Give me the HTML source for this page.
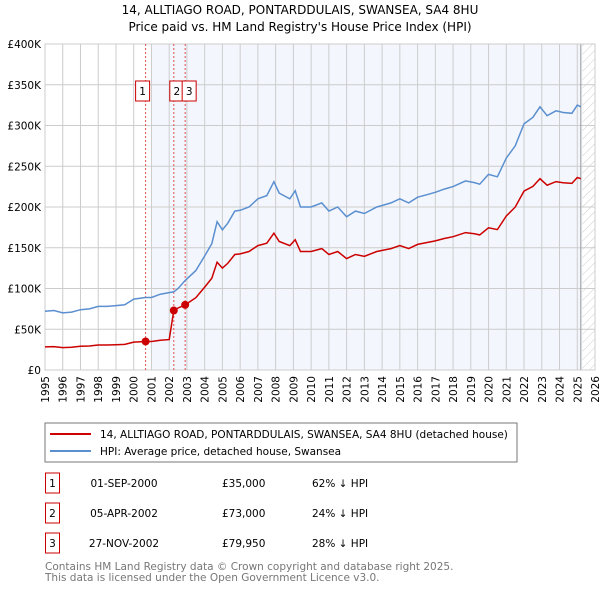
<!DOCTYPE html>
<html><head><meta charset="utf-8"><style>
body{margin:0;background:#fff;font-family:"DejaVu Sans","Liberation Sans",sans-serif;}
svg text{font-family:"DejaVu Sans","Liberation Sans",sans-serif;}
</style></head><body>
<svg id="c" width="600" height="590" xmlns="http://www.w3.org/2000/svg">
<defs><pattern id="hatch" width="6" height="6" patternUnits="userSpaceOnUse" patternTransform="rotate(45)"><line x1="0" y1="0" x2="0" y2="6" stroke="#ccc" stroke-width="1"/></pattern></defs>
<text x="300" y="14" text-anchor="middle" font-size="12">14, ALLTIAGO ROAD, PONTARDDULAIS, SWANSEA, SA4 8HU</text>
<text x="300" y="31" text-anchor="middle" font-size="12">Price paid vs. HM Land Registry's House Price Index (HPI)</text>
<g id="plot"></g>
<rect x="45" y="423" width="472" height="39" fill="#fff" stroke="#777"/>
<line x1="50" y1="434" x2="91" y2="434" stroke="#cc0000" stroke-width="2"/>
<text x="100" y="438" font-size="10.5">14, ALLTIAGO ROAD, PONTARDDULAIS, SWANSEA, SA4 8HU (detached house)</text>
<line x1="50" y1="451" x2="91" y2="451" stroke="#5b8fd0" stroke-width="2"/>
<text x="100" y="455" font-size="10.5">HPI: Average price, detached house, Swansea</text>
<g id="table" font-size="10.5"></g>
<text x="45" y="570" font-size="10.5" fill="#777">Contains HM Land Registry data © Crown copyright and database right 2025.</text>
<text x="45" y="581" font-size="10.5" fill="#777">This data is licensed under the Open Government Licence v3.0.</text>
</svg>
<script>
const hpiYears=[1995,1995.5,1996,1996.5,1997,1997.5,1998,1998.5,1999,1999.5,2000,2000.67,2001,2001.5,2002,2002.26,2002.5,2002.9,2003.5,2004,2004.4,2004.7,2005,2005.3,2005.7,2006,2006.5,2007,2007.5,2007.9,2008.2,2008.8,2009.1,2009.4,2010,2010.6,2011,2011.5,2012,2012.5,2013,2013.7,2014.5,2015,2015.5,2016,2016.5,2017,2017.5,2018,2018.7,2019.2,2019.5,2020,2020.5,2021,2021.5,2022,2022.5,2022.9,2023.3,2023.8,2024.2,2024.7,2025,2025.2];
const hpiValues=[72,73,70,71,74,75,78,78,79,80,87,89,89,93,95,96,100,110,122,140,155,182,172,180,195,196,200,210,214,231,217,210,220,200,200,205,195,200,188,195,192,200,205,210,205,212,215,218,222,225,232,230,228,240,237,260,275,302,310,323,312,318,316,315,325,323];
const saleYears=[2000.67,2002.26,2002.9];
const salePrices=[35000,73000,79950];
const saleLabels=["1","2","3"];
const saleDates=["01-SEP-2000","05-APR-2002","27-NOV-2002"];
const salePriceText=["£35,000","£73,000","£79,950"];
const saleHpiText=["62% ↓ HPI","24% ↓ HPI","28% ↓ HPI"];
const yTicks=[0,50000,100000,150000,200000,250000,300000,350000,400000];
const yTickLabels=["£0","£50K","£100K","£150K","£200K","£250K","£300K","£350K","£400K"];
const xTicks=[];for(let y=1995;y<=2026;y++)xTicks.push(y);

const X0=45,X1=595,Y0=370,Y1=44;
const xs=v=>X0+(v-1995)/(2026-1995)*(X1-X0);
const ys=v=>Y0-v/400000*(Y0-Y1);
const NS="http://www.w3.org/2000/svg";
const plot=document.getElementById('plot');
function mk(t,a,p){const e=document.createElementNS(NS,t);for(const k in a)e.setAttribute(k,a[k]);(p||plot).appendChild(e);return e;}
function hpiAt(t){for(let i=0;i<hpiYears.length-1;i++){if(t<=hpiYears[i+1]){const f=(t-hpiYears[i])/(hpiYears[i+1]-hpiYears[i]);return (hpiValues[i]+f*(hpiValues[i+1]-hpiValues[i]))*1000;}}return hpiValues[hpiValues.length-1]*1000;}

let e=mk('rect',{x:X0,y:Y1,width:X1-X0,height:Y0-Y1,fill:'#fff'});

e=mk('rect',{x:xs(2001),y:Y1,width:xs(2025.3)-xs(2001),height:Y0-Y1,fill:'#eef3fc',opacity:0.7});

e=mk('rect',{x:xs(2025.3),y:Y1,width:X1-xs(2025.3),height:Y0-Y1,fill:'url(#hatch)'});

xTicks.forEach((t,i)=>{
 e=mk('line',{x1:xs(t),x2:xs(t),y1:Y1,y2:Y0,stroke:'#ccc','stroke-width':1});
 
 e=mk('text',{x:0,y:0,'font-size':10.5,'text-anchor':'end',transform:`translate(${xs(t)+4},${Y0+6}) rotate(-90)`});
 e.textContent=t;
});
yTicks.forEach((t,i)=>{
 e=mk('line',{x1:X0,x2:X1,y1:ys(t),y2:ys(t),stroke:'#ccc','stroke-width':1});
 
 e=mk('text',{x:X0-4,y:ys(t)+4,'font-size':10.5,'text-anchor':'end'});
 e.textContent=yTickLabels[i];
});
e=mk('line',{x1:xs(2025.2),x2:xs(2025.2),y1:Y1,y2:Y0,stroke:'#999','stroke-width':1});

e=mk('rect',{x:X0,y:Y1,width:X1-X0,height:Y0-Y1,fill:'none',stroke:'#ccc'});

saleYears.forEach((s,i)=>{
 e=mk('line',{x1:xs(s),x2:xs(s),y1:Y1,y2:Y0,stroke:'#e05050','stroke-width':1,'stroke-dasharray':'2,2'});
 
});
let d=hpiYears.map((t,i)=>(i?'L':'M')+xs(t).toFixed(1)+','+ys(hpiValues[i]*1000).toFixed(1)).join('');
e=mk('path',{d:d,fill:'none',stroke:'#5b8fd0','stroke-width':1.5});

const pts=[];
const times=hpiYears.slice();saleYears.forEach(s=>{times.push(s);times.push(s+0.0001);});times.sort((a,b)=>a-b);
times.forEach(t=>{let k=0;for(let j=0;j<saleYears.length;j++)if(t>=saleYears[j])k=j;
 const v=salePrices[k]*hpiAt(t)/hpiAt(saleYears[k]);pts.push([t,v]);});
d=pts.map((p,i)=>(i?'L':'M')+xs(p[0]).toFixed(1)+','+ys(p[1]).toFixed(1)).join('');
e=mk('path',{d:d,fill:'none',stroke:'#cc0000','stroke-width':1.5});

saleYears.forEach((s,i)=>{
 e=mk('circle',{cx:xs(s),cy:ys(salePrices[i]),r:4,fill:'#cc0000'});
 
 const bx=[xs(s)-10,xs(s)-4,xs(s)-3][i];
 e=mk('rect',{x:bx,y:81,width:14,height:20,fill:'#fff',stroke:'#cc0000'});
 
 e=mk('text',{x:bx+7,y:95,'font-size':10.5,'text-anchor':'middle'});
 e.textContent=saleLabels[i];
});
const tb=document.getElementById('table');
saleYears.forEach((s,i)=>{
 const y=483+i*30;
 e=mk('rect',{x:45.5,y:y-10,width:14,height:20,fill:'#fff',stroke:'#cc0000'},tb);
 
 e=mk('text',{x:52.5,y:y+4,'text-anchor':'middle'},tb);e.textContent=saleLabels[i];
 
 e=mk('text',{x:124,y:y+4,'text-anchor':'middle'},tb);e.textContent=saleDates[i];
 
 e=mk('text',{x:222,y:y+4},tb);e.textContent=salePriceText[i];
 
 e=mk('text',{x:312,y:y+4},tb);e.textContent=saleHpiText[i];
 
});
</script>
</body></html>
